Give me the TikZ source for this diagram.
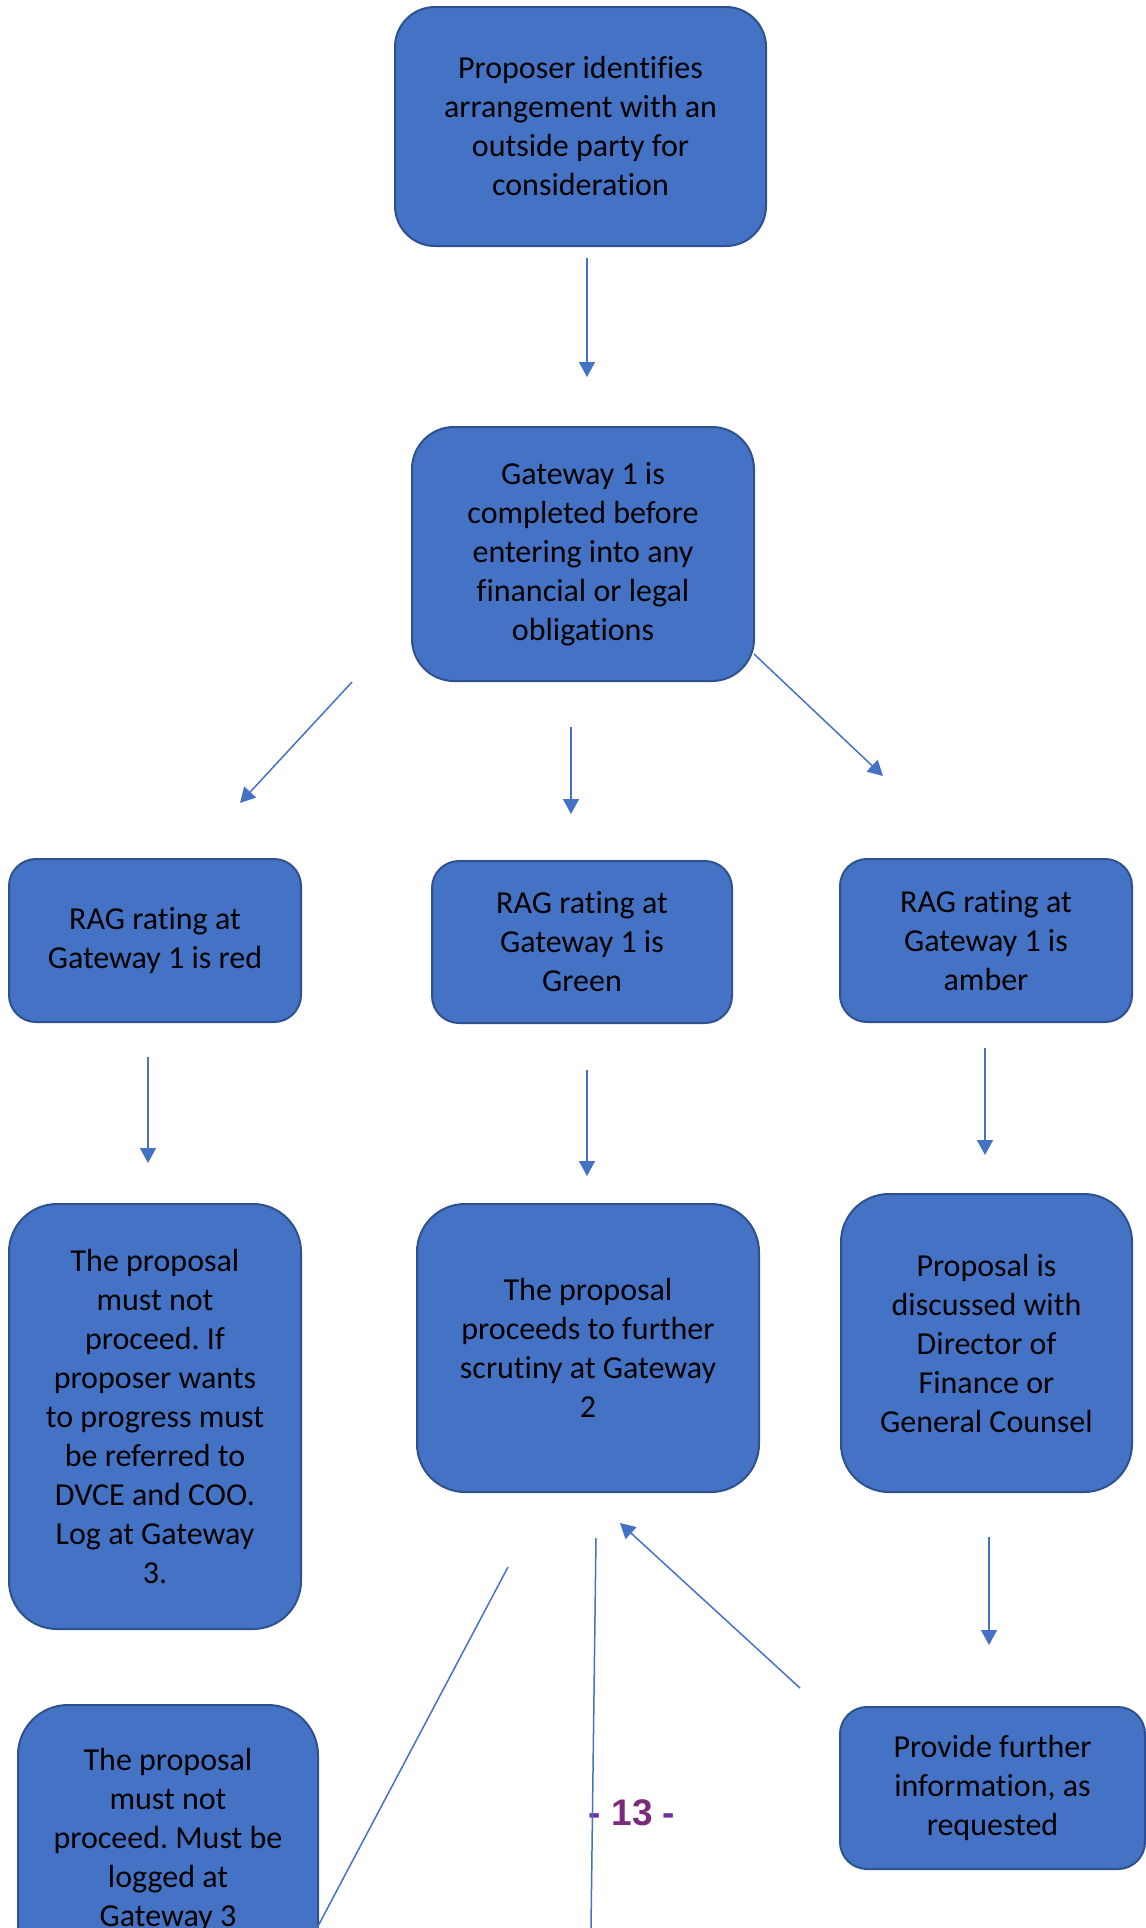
\documentclass[tikz,border=0pt]{standalone}
\usepackage{fontspec}
\setmainfont{Carlito}[Ligatures=NoCommon]
\newfontfamily\pagenofont{Liberation Sans}
\usepackage{tikz}
\usetikzlibrary{shapes,arrows,arrows.meta,positioning}
\frenchspacing
\definecolor{wordblue}{HTML}{4472C4}
\definecolor{wordedge}{HTML}{2F528F}
\definecolor{pagedash}{HTML}{7030A0}
\definecolor{pagenum}{HTML}{7A2A7C}
\tikzstyle{block} = [rectangle, draw=wordedge, line width=1pt, fill=wordblue,
    text=black, align=center, font=\fontsize{16}{19.5}\selectfont]
\tikzstyle{small} = [block, minimum width=146pt, minimum height=81.5pt, rounded corners=13.5pt]
\tikzstyle{tall} = [block, rounded corners=24pt]
\tikzstyle{line} = [draw=wordblue, line width=0.75pt, -{Triangle[length=7.5pt,width=8pt]}]
\tikzstyle{plain} = [draw=wordblue, line width=0.75pt]

\begin{document}
\begin{tikzpicture}[x=0.5pt, y=-0.5pt]
    \clip (0,0) rectangle (1146,1928);
    \useasboundingbox (0,0) rectangle (1146,1928);
    % Place nodes
    \node [block, minimum width=185.5pt, minimum height=119.5pt, rounded corners=20pt] (init) at (580.5,126.5)
        {Proposer identifies\\arrangement with an\\outside party for\\consideration};
    \node [block, minimum width=171pt, minimum height=127pt, rounded corners=21pt] (gate) at (583,554)
        {Gateway 1 is\\completed before\\entering into any\\financial or legal\\obligations};
    \node [small] (red) at (155,940.5) {RAG rating at\\Gateway 1 is red};
    \node [small, minimum width=150pt, minimum height=81pt] (green) at (582,942) {RAG rating at\\Gateway 1 is\\Green};
    \node [small] (amber) at (986,940.5) {RAG rating at\\Gateway 1 is\\amber};
    \node [tall, minimum width=146pt, minimum height=212.5pt] (stop) at (155,1416.5)
        {The proposal\\must not\\proceed. If\\proposer wants\\to progress must\\be referred to\\DVCE and COO.\\Log at Gateway\\3.};
    \node [tall, minimum width=171pt, minimum height=144pt] (scrutiny) at (588,1348)
        {The proposal\\proceeds to further\\scrutiny at Gateway\\2};
    \node [tall, minimum width=145.5pt, minimum height=149pt] (discuss) at (986.5,1343)
        {Proposal is\\discussed with\\Director of\\Finance or\\General Counsel};
    \node [small, minimum width=152.5pt, minimum height=81pt] (info) at (992.5,1788)
        {Provide further\\information, as\\requested};
    \node [tall, minimum width=150pt, minimum height=135pt, rounded corners=25pt] (logged) at (168,1840)
        {The proposal\\must not\\proceed. Must be\\logged at\\Gateway 3};
    \node [font=\pagenofont\bfseries\fontsize{18.5}{22}\selectfont] (pageno) at (632,1813)
        {\textcolor{pagedash}{-} \textcolor{pagenum}{13} \textcolor{pagedash}{-}};
    % Arrow ends
    \coordinate (initout) at (587,258);
    \coordinate (gatein) at (587,377);
    \coordinate (fanl) at (352,682);
    \coordinate (redin) at (240,803);
    \coordinate (fanm) at (571,727);
    \coordinate (greenin) at (571,814);
    \coordinate (fanr) at (754,654);
    \coordinate (amberin) at (883,776);
    \coordinate (redout) at (148,1057);
    \coordinate (stopin) at (148,1163);
    \coordinate (greenout) at (587,1070);
    \coordinate (scrutinyin) at (587,1176);
    \coordinate (amberout) at (985,1048);
    \coordinate (discussin) at (985,1155);
    \coordinate (discussout) at (989,1537);
    \coordinate (infoin) at (989,1645);
    \coordinate (infoout) at (800,1688);
    \coordinate (scrutinyback) at (620,1523);
    \coordinate (loggedout) at (317,1928);
    \coordinate (loggedup) at (508,1567);
    \coordinate (scrutinytop) at (596,1538);
    \coordinate (scrutinyend) at (591,1928);
    % Connect
    \path [line] (initout) -- (gatein);
    \path [line] (fanl) -- (redin);
    \path [line] (fanm) -- (greenin);
    \path [line] (fanr) -- (amberin);
    \path [line] (redout) -- (stopin);
    \path [line] (greenout) -- (scrutinyin);
    \path [line] (amberout) -- (discussin);
    \path [line] (discussout) -- (infoin);
    \path [line] (infoout) -- (scrutinyback);
    \path [plain] (loggedout) -- (loggedup);
    \path [plain] (scrutinytop) -- (scrutinyend);
\end{tikzpicture}
\end{document}
